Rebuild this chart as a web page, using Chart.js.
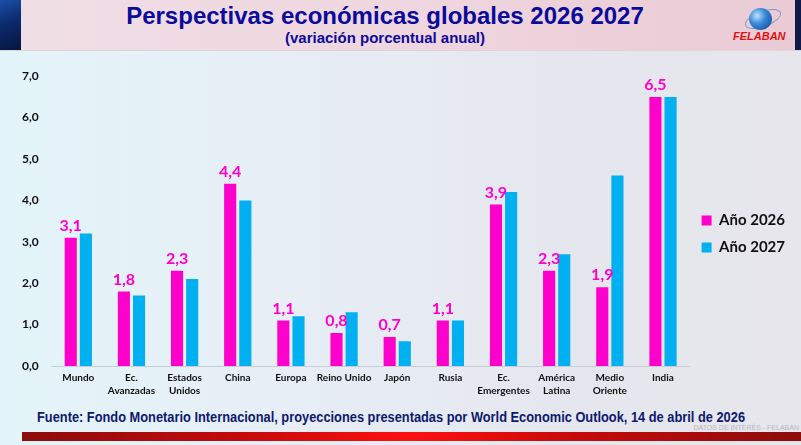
<!DOCTYPE html>
<html>
<head>
    <meta charset="utf-8">
    <title>Perspectivas económicas globales</title>
    <script src="https://cdn.jsdelivr.net/npm/chart.js"></script>
    <style>
        html, body {
            margin: 0;
            padding: 0;
        }
        body {
            width: 801px;
            height: 445px;
            position: relative;
            overflow: hidden;
            font-family: "Liberation Sans", Arial, sans-serif;
            background: linear-gradient(90deg, #e3f5fa 0%, #e7eef6 35%, #e6e7ee 70%, #e6e6ec 100%);
        }
        #header {
            position: absolute;
            left: 0; top: 0;
            width: 801px; height: 50px;
            background: linear-gradient(90deg, #f0dfe6 0%, #efd6df 50%, #eacbd5 100%);
            border-bottom: 1px solid #ddd3da;
        }
        #strip {
            position: absolute;
            left: 0; top: 0;
            width: 21px; height: 50px;
            background: linear-gradient(160deg, #1c4fa8 0%, #0b2a6e 45%, #06163f 100%);
        }
        #stripRight {
            position: absolute;
            left: 795px; top: 0;
            width: 6px; height: 50px;
            background: #0d1a4a;
        }
        #title {
            position: absolute;
            left: 0; top: 2px;
            width: 770px;
            text-align: center;
            font-weight: bold;
            font-size: 24px;
            color: #0b0b9a;
        }
        #subtitle {
            position: absolute;
            left: 0; top: 29px;
            width: 770px;
            text-align: center;
            font-weight: bold;
            font-size: 15px;
            color: #0b0b9a;
        }
        #orbit {
            position: absolute;
            left: 744px; top: 11px;
            width: 36px; height: 14px;
            border-radius: 50%;
            border: 1px solid #7d9fcf;
            transform: rotate(-20deg);
        }
        #globe {
            position: absolute;
            left: 749px; top: 8px;
            width: 23px; height: 22px;
            border-radius: 50%;
            background: radial-gradient(circle at 35% 35%, #bfe2ff 0%, #3a8ad8 40%, #0c3f8c 100%);
        }
        #logo {
            position: absolute;
            left: 733px; top: 30px;
            font-weight: bold;
            font-style: italic;
            font-size: 11px;
            color: #e01010;
        }
        #chartBox {
            position: absolute;
            left: 0; top: 56px;
            width: 801px; height: 346px;
        }
        #source {
            position: absolute;
            left: 37px; top: 409px;
            font-family: "Liberation Sans", Arial, sans-serif;
            font-weight: bold;
            font-size: 14px;
            color: #0d1a6e;
            white-space: nowrap;
            transform-origin: 0 0;
        }
        #tag {
            position: absolute;
            right: 2px; top: 424px;
            font-size: 7px;
            color: #b8b8bc;
        }
        #redbar {
            position: absolute;
            left: 22px; top: 432px;
            width: 779px; height: 9px;
            background: linear-gradient(90deg, #8c0c0c 0%, #c80a0a 30%, #ff1010 50%, #c80a0a 70%, #8c0c0c 100%);
        }
    </style>
</head>
<body>
    <div id="header"></div>
    <div id="strip"></div>
    <div id="stripRight"></div>
    <div id="title">Perspectivas económicas globales 2026 2027</div>
    <div id="subtitle">(variación porcentual anual)</div>
    <div id="orbit"></div>
    <div id="globe"></div>
    <div id="logo">FELABAN</div>

    <div id="chartBox"><canvas id="growthChart"></canvas></div>

    <div id="source">Fuente: Fondo Monetario Internacional, proyecciones presentadas por World Economic Outlook, 14 de abril de 2026</div>
    <div id="tag">DATOS DE INTERÉS - FELABAN</div>
    <div id="redbar"></div>

    <script>
    const regions = [
        'Mundo', ['Ec.', 'Avanzadas'], ['Estados', 'Unidos'], 'China', 'Europa', 'Reino Unido',
        'Japón', 'Rusia', ['Ec.', 'Emergentes'], ['América', 'Latina'], ['Medio', 'Oriente'], 'India'
    ];
    const growth2026 = [3.1, 1.8, 2.3, 4.4, 1.1, 0.8, 0.7, 1.1, 3.9, 2.3, 1.9, 6.5];
    const growth2027 = [3.2, 1.7, 2.1, 4.0, 1.2, 1.3, 0.6, 1.1, 4.2, 2.7, 4.6, 6.5];
    const yTicks = [0, 1, 2, 3, 4, 5, 6, 7];

    const fmt = v => v.toFixed(1).replace('.', ',');

    // la fuente es condensada en el original: se comprime al ancho
    const src = document.getElementById('source');
    src.style.transform = 'scaleX(' + (708 / src.offsetWidth) + ')';

    // etiquetas solo sobre las barras de 2026
    const valueLabels = {
        id: 'valueLabels',
        afterDatasetsDraw(chart) {
            const ctx = chart.ctx;
            const meta = chart.getDatasetMeta(0);
            ctx.save();
            ctx.font = 'bold 16px Lato, "Open Sans", sans-serif';
            ctx.fillStyle = '#ff00cc';
            ctx.textAlign = 'center';
            ctx.textBaseline = 'bottom';
            meta.data.forEach((bar, i) => {
                ctx.fillText(fmt(growth2026[i]), bar.x, bar.y - 4);
            });
            ctx.restore();
        }
    };

    new Chart(document.getElementById('growthChart'), {
        type: 'bar',
        data: {
            labels: regions,
            datasets: [
                {
                    label: 'Año 2026',
                    data: growth2026,
                    backgroundColor: '#ff00cc'
                },
                {
                    label: 'Año 2027',
                    data: growth2027,
                    backgroundColor: '#00b0f0'
                }
            ]
        },
        options: {
            responsive: true,
            maintainAspectRatio: false,
            animation: false,
            categoryPercentage: 0.57,
            barPercentage: 0.8,
            layout: {
                padding: { top: 10, left: 9, right: 6, bottom: 0 }
            },
            plugins: {
                legend: {
                    position: 'right',
                    labels: {
                        boxWidth: 10,
                        boxHeight: 10,
                        padding: 12,
                        color: '#111',
                        font: { family: 'Lato, "Open Sans", sans-serif', size: 15, weight: 'bold' }
                    }
                },
                tooltip: { enabled: false }
            },
            scales: {
                x: {
                    grid: { display: false, drawTicks: false },
                    border: { color: '#c9ccd4', width: 1 },
                    ticks: {
                        color: '#111',
                        padding: 5,
                        maxRotation: 0,
                        autoSkip: false,
                        font: { family: 'Lato, "Open Sans", sans-serif', size: 10, weight: 'bold', lineHeight: 1.3 }
                    }
                },
                y: {
                    min: 0,
                    max: 7,
                    afterBuildTicks: axis => {
                        axis.ticks = yTicks.map(v => ({ value: v }));
                    },
                    grid: { display: false, drawTicks: false },
                    border: { display: false },
                    ticks: {
                        color: '#111',
                        padding: 13,
                        callback: v => fmt(v),
                        font: { family: 'Lato, "Open Sans", sans-serif', size: 12, weight: 'bold' }
                    }
                }
            }
        },
        plugins: [valueLabels]
    });
    </script>
</body>
</html>
